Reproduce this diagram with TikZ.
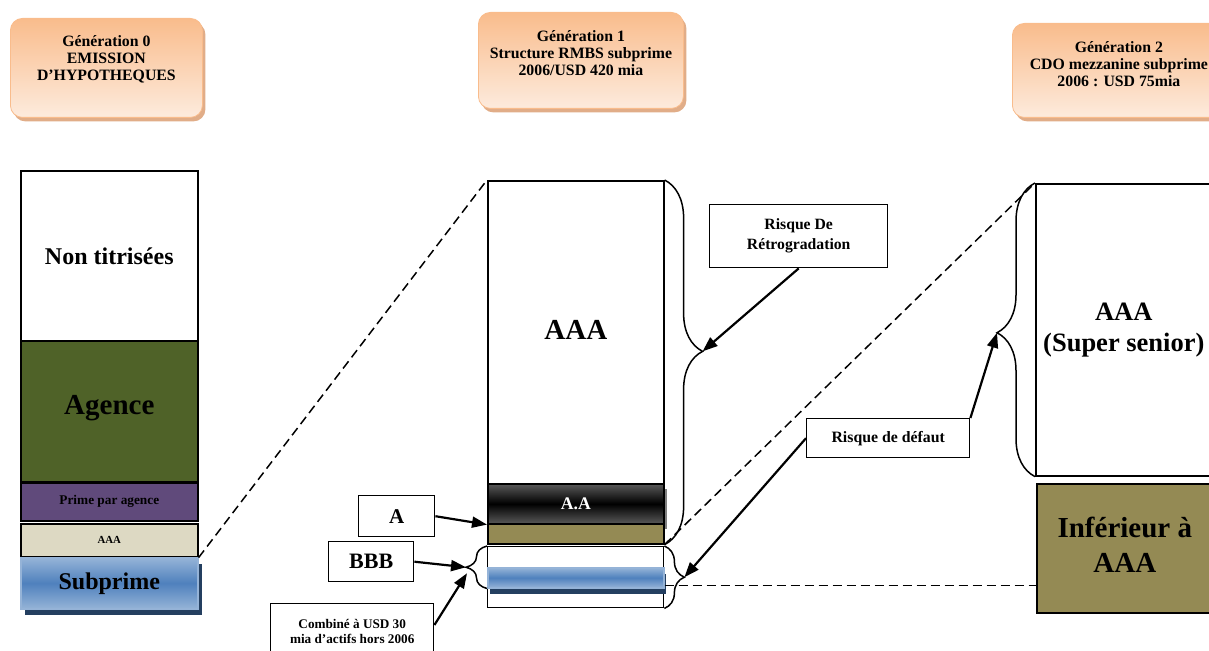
\documentclass[tikz,border=0pt]{standalone}
\usepackage{fontspec}
\setmainfont{Liberation Serif}
\usetikzlibrary{arrows.meta,decorations.pathreplacing,shadows,calc}

\definecolor{peachdark}{HTML}{F9BC8C}
\definecolor{peachlight}{HTML}{FDEBDD}
\definecolor{peachshadow}{HTML}{D9986A}
\definecolor{agencegreen}{HTML}{4F6228}
\definecolor{primepurple}{HTML}{604A7B}
\definecolor{aaabeige}{HTML}{DDD9C3}
\definecolor{olive}{HTML}{948A54}
\definecolor{bluemid}{HTML}{4F81BD}
\definecolor{bluelight}{HTML}{95B3D7}
\definecolor{bluedark}{HTML}{243F60}

\newcommand\fsz[2]{\fontsize{#1}{#2}\selectfont\bfseries}

\begin{document}
\begin{tikzpicture}
  [x=1pt,y=-1pt,
   gen box/.style={draw=peachdark,line width=0.8pt,rounded corners=12pt,
     top color=peachdark,bottom color=peachlight,anchor=north west,inner sep=0pt,
     drop shadow={shadow xshift=3pt,shadow yshift=-4pt,fill=peachshadow,opacity=0.8}},
   gen text/.style={align=center,font=\fsz{15.8}{17}},
   tranche/.style={draw,line width=1.6pt,anchor=north west,inner sep=0pt,align=center},
   tag/.style={draw,line width=1.4pt,anchor=north west,inner sep=0pt,align=center},
   blue bar/.style={draw=bluelight,line width=1.5pt,top color=bluelight,bottom color=bluelight,
     middle color=bluemid,anchor=north west,inner sep=0pt},
   arr/.style={line width=2.2pt,-{Triangle[length=15pt,width=11pt]}},
   brace line/.style={line width=1.5pt,decorate},
   dash line/.style={line width=1.5pt,dash pattern=on 9pt off 5pt}]
  \useasboundingbox (0,0) rectangle (1209,650);
  \clip (0,0) rectangle (1209,650);

  \node[gen box,minimum width=192pt,minimum height=99pt] (gen0) at (10,18) {};
  \node[gen text] at ($(gen0.center)+(0,-9)$) {Génération 0\\EMISSION\\D’HYPOTHEQUES};
  \node[gen box,minimum width=205pt,minimum height=96pt] (gen1) at (478,12) {};
  \node[gen text] at ($(gen1.center)+(0,-7)$) {Génération 1\\Structure RMBS subprime\\2006/USD 420 mia};
  \node[gen box,minimum width=213pt,minimum height=94pt] (gen2) at (1012,23) {};
  \node[gen text] at ($(gen2.center)+(0,-6)$) {Génération 2\\CDO mezzanine subprime\\2006 : USD 75mia};

  \node[tranche,minimum width=177pt,minimum height=170pt,font=\fsz{24}{26}] (nontit) at (20,170) {Non titrisées};
  \node[tranche,minimum width=177pt,minimum height=141pt,fill=agencegreen,font=\fsz{29}{31}] (agence) at (20,340) {\raisebox{12pt}{Agence}};
  \node[tranche,minimum width=177pt,minimum height=38pt,fill=primepurple,font=\fsz{13.3}{15}] (prime) at (20,482) {Prime par agence};
  \node[tranche,minimum width=177pt,minimum height=33pt,fill=aaabeige,font=\fsz{10.8}{12}] (aaaL) at (20,523) {AAA};
  \node[blue bar,minimum width=177pt,minimum height=51pt,font=\fsz{24}{26},
    drop shadow={shadow xshift=4pt,shadow yshift=-6pt,fill=bluedark,opacity=1}] (subprime) at (20,557) {Subprime};

  \node[tranche,minimum width=176pt,minimum height=303pt,font=\fsz{29}{31}] (aaaM) at (487,180) {\raisebox{5pt}{AAA}};
  \node[tranche,minimum width=176pt,minimum height=40pt,top color=gray!70!black,bottom color=gray!70!black,middle color=black,
    text=white,font=\fsz{17.7}{19},
    drop shadow={shadow xshift=3pt,shadow yshift=-5pt,fill=gray,opacity=1}] (aa) at (487,483) {A.A};
  \node[tranche,minimum width=176pt,minimum height=20pt,fill=olive] (olive) at (487,523) {};
  \node[tranche,minimum width=176pt,minimum height=61pt,line width=1.4pt] (lowbox) at (487,546) {};
  \node[blue bar,minimum width=176pt,minimum height=20pt,
    drop shadow={shadow xshift=2pt,shadow yshift=-6pt,fill=bluedark,opacity=1}] (bluebar) at (487,567) {};

  \node[tranche,minimum width=176pt,minimum height=292pt,font=\fsz{26.5}{31}] (super) at (1035,183) {\raisebox{9pt}{\begin{tabular}{@{}c@{}}AAA\\(Super senior)\end{tabular}}};
  \node[tranche,minimum width=176pt,minimum height=129pt,fill=olive,font=\fsz{29}{35}] (inf) at (1036,483) {\raisebox{-7pt}{\begin{tabular}{@{}c@{}}Inférieur à\\AAA\end{tabular}}};

  \node[tag,minimum width=178pt,minimum height=63pt,font=\fsz{15.7}{20}] (retro) at (709,204) {Risque De\\Rétrogradation};
  \node[tag,minimum width=163pt,minimum height=39pt,font=\fsz{15.8}{18}] (defaut) at (806,418) {Risque de défaut};
  \node[tag,minimum width=76pt,minimum height=41pt,font=\fsz{21}{23}] (ra) at (358,495) {A};
  \node[tag,minimum width=85pt,minimum height=40pt,font=\fsz{22}{24}] (rbbb) at (328,541) {BBB};
  \node[tag,minimum width=163pt,minimum height=56pt,font=\fsz{13.2}{15}] (comb) at (270,603) {Combiné à USD 30\\mia d’actifs hors 2006};

  \draw[brace line,decoration={brace,amplitude=38pt,aspect=0.47}] (aaaM.north east) -- (olive.south east);
  \coordinate (retro tip) at ($(aaaM.north east)!0.47!(olive.south east)+(38,0)$);
  \draw[brace line,decoration={brace,amplitude=21pt}] (bluebar.south west) -- (lowbox.north west);
  \coordinate (left tip) at ($(bluebar.south west)!0.5!(lowbox.north west)+(-21,0)$);
  \draw[brace line,decoration={brace,amplitude=20pt}] (lowbox.north east) -- (lowbox.south east);
  \coordinate (right tip) at ($(lowbox.north east)!0.5!(lowbox.south east)+(20,0)$);
  \draw[brace line,decoration={brace,amplitude=38pt,aspect=0.49}] (super.south west) -- (super.north west);
  \coordinate (super tip) at ($(super.south west)!0.49!(super.north west)+(-38,0)$);
  \coordinate (comb end) at ($(left tip)+(1,6)$);

  \draw[dash line] (aaaL.south east) -- (aaaM.north west);
  \draw[dash line] (olive.south east) -- (super.north west);
  \coordinate (dash start) at ($(bluebar.south east)+(0,-3)$);
  \draw[dash line] (dash start) -- (dash start -| inf.west);

  \draw[arr] (retro.south) -- (retro tip);
  \draw[arr] (defaut.north east) -- (super tip);
  \draw[arr] (defaut.west) -- (right tip);
  \draw[arr] (ra.east) -- (aa.south west);
  \draw[arr] (rbbb.east) -- (left tip);
  \draw[arr] ($(comb.north east)+(0,22)$) -- (comb end);
\end{tikzpicture}
\end{document}
